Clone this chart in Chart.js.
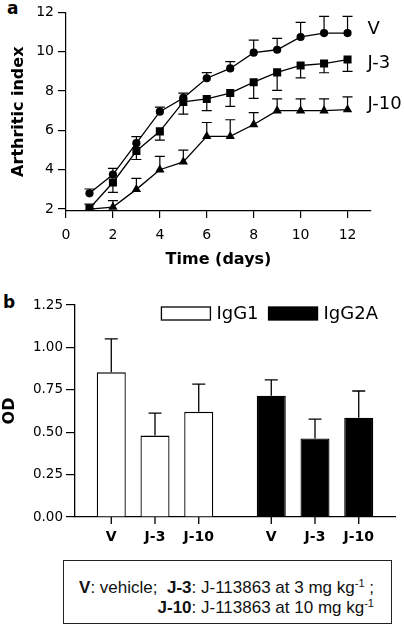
<!DOCTYPE html>
<html>
<head>
<meta charset="utf-8">
<script src="https://cdn.jsdelivr.net/npm/chart.js@4.4.1/dist/chart.umd.min.js"></script>
<style>
  body { margin: 0; background: #fff; width: 404px; height: 627px; position: relative; overflow: hidden; }
  canvas { position: absolute; left: 0; }
  #chart-a { top: 0; }
  #chart-b { top: 280px; }
  .tag { position: absolute; font: bold 17px 'DejaVu Sans', sans-serif; line-height: 17px; color: #000; }
  #note {
    position: absolute; left: 63px; top: 560px; width: 310px; height: 40px;
    border: 1.5px solid #222; padding: 17px 17px 5px 0; text-align: right;
    font: 17px 'Liberation Sans', Arial, sans-serif; line-height: 20px; color: #111;
  }
  #note sup { font-size: 0.65em; line-height: 0; vertical-align: 0.55em; }
</style>
</head>
<body>
<div class="tag" style="left:7px;top:0px">a</div>
<canvas id="chart-a" width="404" height="280"></canvas>
<div class="tag" style="left:3px;top:294px">b</div>
<canvas id="chart-b" width="404" height="275"></canvas>
<div id="note"><b>V</b>: vehicle;&nbsp; <b>J-3</b>: J-113863 at 3 mg kg<sup>-1</sup> ;<br><b>J-10</b>: J-113863 at 10 mg kg<sup>-1</sup></div>

<script>
// ---- panel a: arthritic index over time ----
const days = [1, 2, 3, 4, 5, 6, 7, 8, 9, 10, 11, 12];
const seriesNames = ['V', 'J-3', 'J-10'];
const vMean   = [2.8, 3.75, 5.35, 6.95, 7.65, 8.65, 9.15, 9.95, 10.1, 10.75, 10.95, 10.95];
const j3Mean  = [2.03, 3.35, 4.95, 5.95, 7.45, 7.6, 7.9, 8.45, 8.95, 9.3, 9.4, 9.6];
const j10Mean = [2.0, 2.1, 3.0, 4.0, 4.4, 5.7, 5.7, 6.3, 7.0, 7.0, 7.0, 7.06];
const vErr    = [0.22, 0.32, 0.33, 0.23, 0.24, 0.29, 0.35, 0.64, 0.58, 0.74, 0.85, 0.85];
const j3Err   = [0.1, 0.5, 0.43, 0.45, 0.62, 0.6, 0.68, 0.82, 0.92, 0.63, 0.47, 0.6];
const j10Err  = [0.25, 0.33, 0.56, 0.68, 0.6, 0.7, 0.84, 0.6, 0.6, 0.6, 0.6, 0.64];
const dayTicks = [0, 2, 4, 6, 8, 10, 12];
const indexTicks = [2, 4, 6, 8, 10, 12];
const seriesLabelAt = [11.15, 9.4, 7.3];   // y value where the right-hand series name sits

// ---- panel b: OD by treatment and isotype ----
const groups = ['IgG1', 'IgG2A'];
const treatments = ['V', 'J-3', 'J-10'];
const igg1 = [0.853, 0.48, 0.62];
const igg2a = [0.715, 0.463, 0.585];
const igg1Err = [0.197, 0.133, 0.164];
const igg2aErr = [0.093, 0.114, 0.158];
const odTicks = [0, 0.25, 0.5, 0.75, 1.0, 1.25];

const FONT = "'DejaVu Sans', sans-serif";
Chart.defaults.font.family = FONT;
Chart.defaults.color = '#000';

const fixTicks = list => s => { s.ticks = list.map(v => ({ value: v })); };

// error bars drawn under the markers; side +1 = up, -1 = down
const lineErrors = {
  id: 'lineErrors',
  beforeDatasetsDraw(chart) {
    const { ctx, scales: { y } } = chart;
    ctx.save();
    ctx.strokeStyle = '#000';
    ctx.lineWidth = 1.2;
    chart.data.datasets.forEach((ds, i) => {
      chart.getDatasetMeta(i).data.forEach((pt, j) => {
        const yEnd = y.getPixelForValue(ds.data[j].y + ds.side * ds.errors[j]);
        ctx.beginPath();
        ctx.moveTo(pt.x, pt.y);
        ctx.lineTo(pt.x, yEnd);
        ctx.moveTo(pt.x - 5, yEnd);
        ctx.lineTo(pt.x + 5, yEnd);
        ctx.stroke();
      });
    });
    ctx.restore();
  },
  afterDraw(chart) {
    const { ctx, scales: { x, y } } = chart;
    ctx.save();
    ctx.font = '18px ' + FONT;
    ctx.fillStyle = '#000';
    ctx.textBaseline = 'middle';
    seriesNames.forEach((name, i) => {
      ctx.fillText(name, x.getPixelForValue(days[days.length - 1]) + 20, y.getPixelForValue(seriesLabelAt[i]));
    });
    ctx.restore();
  }
};

const means = [vMean, j3Mean, j10Mean];
const errs = [vErr, j3Err, j10Err];
const sides = [1, -1, 1];
const shapes = ['circle', 'rect', 'triangle'];
const radii = [4.1, 5.7, 5.4];

new Chart(document.getElementById('chart-a'), {
  type: 'line',
  data: {
    datasets: seriesNames.map((name, i) => ({
      label: name,
      data: days.map((d, j) => ({ x: d, y: means[i][j] })),
      errors: errs[i],
      side: sides[i],
      borderColor: '#000',
      borderWidth: 1.3,
      backgroundColor: '#000',
      pointStyle: shapes[i],
      pointRadius: radii[i],
      pointBorderWidth: 0,
      tension: 0,
    })),
  },
  options: {
    responsive: false,
    animation: false,
    devicePixelRatio: 1,
    layout: { padding: { top: 10, right: 33, left: 0, bottom: 0 } },
    plugins: { legend: { display: false }, tooltip: { enabled: false } },
    scales: {
      x: {
        type: 'linear', min: 0, max: 13,
        afterBuildTicks: fixTicks(dayTicks),
        afterFit: s => { s.height = 69; },
        ticks: { font: { size: 14 }, color: '#000', padding: 9, maxRotation: 0, autoSkip: false },
        grid: { drawOnChartArea: false, tickLength: 7, color: '#000', lineWidth: 1.2 },
        border: { color: '#000', width: 1.2 },
        title: { display: true, text: 'Time (days)', color: '#000', font: { size: 16, weight: 'bold' }, padding: { top: 0, bottom: 11 } },
      },
      y: {
        type: 'linear', min: 1.9, max: 12,
        afterBuildTicks: fixTicks(indexTicks),
        afterFit: s => { s.width = 66; },
        ticks: { font: { size: 14 }, color: '#000', padding: 4 },
        grid: { drawOnChartArea: false, tickLength: 8, color: '#000', lineWidth: 1.2 },
        border: { color: '#000', width: 1.2 },
        title: { display: true, text: 'Arthritic index', color: '#000', font: { size: 16, weight: 'bold' }, padding: { top: 9, bottom: 0 } },
      },
    },
  },
  plugins: [lineErrors],
});

// bars: upward error bars, per-bar ticks and labels, isotype legend inside the plot
const barExtras = {
  id: 'barExtras',
  afterDatasetsDraw(chart) {
    const { ctx, chartArea, scales: { x, y } } = chart;
    ctx.save();
    ctx.strokeStyle = '#000';
    ctx.fillStyle = '#000';
    ctx.lineWidth = 1.3;
    chart.data.datasets.forEach((ds, i) => {
      chart.getDatasetMeta(i).data.forEach((bar, j) => {
        const yEnd = y.getPixelForValue(ds.data[j] + ds.errors[j]);
        ctx.beginPath();
        ctx.moveTo(bar.x, bar.y);
        ctx.lineTo(bar.x, yEnd);
        ctx.moveTo(bar.x - 6.5, yEnd);
        ctx.lineTo(bar.x + 6.5, yEnd);
        ctx.moveTo(bar.x, x.top);
        ctx.lineTo(bar.x, x.top + 7);
        ctx.stroke();
        ctx.font = 'bold 14px ' + FONT;
        ctx.textAlign = 'center';
        ctx.textBaseline = 'middle';
        ctx.fillText(ds.label, bar.x, x.top + 20);
      });
    });
    // legend
    ctx.font = '18px ' + FONT;
    ctx.textAlign = 'left';
    ctx.textBaseline = 'middle';
    const widths = groups.map(g => ctx.measureText(g).width);
    const total = groups.length * (49 + 6) + widths.reduce((a, b) => a + b, 0) + 10 * (groups.length - 1);
    let lx = chartArea.right - 17 - total;
    const ly = chartArea.top + 2;
    groups.forEach((g, k) => {
      ctx.fillStyle = chart.data.datasets[0].backgroundColor[k];
      ctx.fillRect(lx, ly, 49, 13);
      ctx.strokeRect(lx, ly, 49, 13);
      ctx.fillStyle = '#000';
      ctx.fillText(g, lx + 55, ly + 7);
      lx += 55 + widths[k] + 10;
    });
    ctx.restore();
  }
};

const odMeans = [igg1, igg2a];
const odErrs = [igg1Err, igg2aErr];

new Chart(document.getElementById('chart-b'), {
  type: 'bar',
  data: {
    labels: groups,
    datasets: treatments.map((t, i) => ({
      label: t,
      data: odMeans.map(m => m[i]),
      errors: odErrs.map(e => e[i]),
      backgroundColor: ['#fff', '#000'],
      borderColor: '#000',
      borderWidth: 1.3,
      categoryPercentage: 0.82,
      barPercentage: 0.664,
    })),
  },
  options: {
    responsive: false,
    animation: false,
    devicePixelRatio: 1,
    layout: { padding: { top: 25, right: 9, left: 0, bottom: 0 } },
    plugins: { legend: { display: false }, tooltip: { enabled: false } },
    scales: {
      x: {
        type: 'category',
        afterFit: s => { s.height = 38; },
        ticks: { display: false },
        grid: { display: false },
        border: { color: '#000', width: 1.3 },
      },
      y: {
        min: 0, max: 1.25,
        afterBuildTicks: fixTicks(odTicks),
        afterFit: s => { s.width = 75; },
        ticks: { font: { size: 13.5 }, color: '#000', padding: 3, callback: v => v.toFixed(2) },
        grid: { drawOnChartArea: false, tickLength: 9, color: '#000', lineWidth: 1.2 },
        border: { color: '#000', width: 1.3 },
        title: { display: true, text: 'OD', color: '#000', font: { size: 16, weight: 'bold' }, padding: { top: 0, bottom: 0 } },
      },
    },
  },
  plugins: [barExtras],
});
</script>
</body>
</html>
